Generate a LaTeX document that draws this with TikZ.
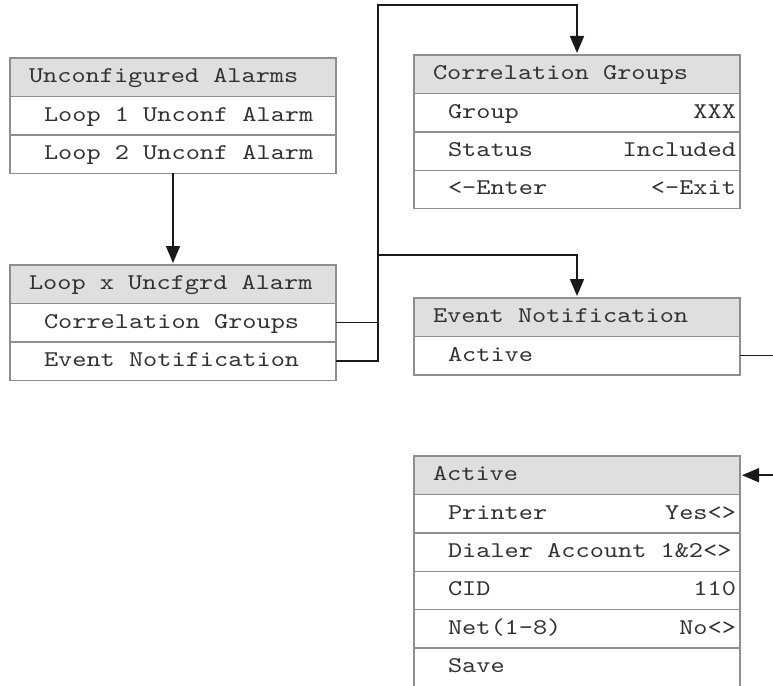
\documentclass[tikz,border=0pt]{standalone}
\usepackage{fontspec}
\setmonofont{lmmono10-regular.otf}[FakeStretch=1.2]
\usetikzlibrary{arrows.meta,positioning}
\usepackage{xcolor}
\definecolor{boxline}{HTML}{8E8E8E}
\definecolor{headfill}{HTML}{DFDFDF}
\definecolor{ink}{HTML}{1A1A1A}

\begin{document}
\begin{tikzpicture}[
  x=1pt, y=-1pt,
  cell/.style={draw=boxline, line width=1.4pt, text=ink!90,
    font=\ttfamily\fontsize{22.5}{27}\selectfont,
    minimum height=38.4pt, text width=318pt, inner xsep=4pt, inner ysep=0pt,
    outer sep=0pt, text height=15pt, text depth=4pt, align=left,
    execute at begin node={\spaceskip=\fontcharwd\font`\x\relax
      \xspaceskip=\spaceskip\noindent\hspace*{#1}}},
  row/.style={cell=30pt},
  head/.style={cell=15pt, fill=headfill},
  link/.style={draw=ink, line width=1.6pt},
  arrow/.style={link, shorten >=2pt, -{Triangle[length=17pt,width=14pt]}}
]
\useasboundingbox (0,0) rectangle (773,685);

\node[head] (unconf) at (173,77.2) {Unconfigured Alarms};
\node[row, below=0pt of unconf] (loopone) {Loop 1 Unconf Alarm};
\node[row, below=0pt of loopone] (looptwo) {Loop 2 Unconf Alarm};

\node[head] (loopx) at (173,284.2) {Loop x Uncfgrd Alarm};
\node[row, below=0pt of loopx] (corrsel) {Correlation Groups};
\node[row, below=0pt of corrsel] (eventsel) {Event Notification};

\node[head] (corr) at (577,74.2) {Correlation Groups};
\node[row, below=0pt of corr] (group) {Group\hfill XXX};
\node[row, below=0pt of group] (status) {Status\hfill Included};
\node[row, below=0pt of status] (enter) {<-Enter\hfill <-Exit};

\node[head] (event) at (577,317.2) {Event Notification};
\node[row, below=0pt of event] (evactive) {Active};

\node[head] (active) at (577,475.2) {Active};
\node[row, below=0pt of active] (printer) {Printer\hfill Yes<>};
\node[row, below=0pt of printer] (dialer) {Dialer Account 1\&2<>};
\node[row, below=0pt of dialer] (cid) {CID\hfill 110};
\node[row, below=0pt of cid] (net) {Net(1-8)\hfill No<>};
\node[row, below=0pt of net] (save) {Save};

\coordinate (spine) at (378,5);
\coordinate (branch) at (378,255);
\coordinate (rim) at (773,0);

\draw[arrow] (looptwo) -- (loopx);
\draw[arrow] (corrsel.east) -| (spine) -| (corr.north);
\draw[arrow] (eventsel.east) -| (branch) -| (event.north);
\draw[link] (evactive.east) -- (evactive.east -| rim);
\draw[arrow] (active.east -| rim) -- (active.east);
\end{tikzpicture}
\end{document}
